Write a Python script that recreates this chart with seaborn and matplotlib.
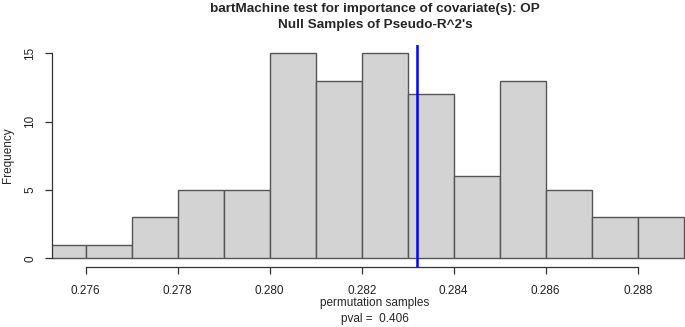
#!/usr/bin/env python3
import matplotlib

matplotlib.use("Agg")

import matplotlib.pyplot as plt
import pandas as pd
import seaborn as sns

# histogram of null permutation samples (bin edges / counts)
BIN_EDGES = [0.275, 0.276, 0.277, 0.278, 0.279, 0.280, 0.281, 0.282,
             0.283, 0.284, 0.285, 0.286, 0.287, 0.288, 0.289]
BIN_COUNTS = [1, 1, 3, 5, 5, 15, 13, 15, 12, 6, 13, 5, 3, 3]
OBSERVED = 0.2832
PVAL = 0.406
X_TICKS = [0.276, 0.278, 0.280, 0.282, 0.284, 0.286, 0.288]
Y_TICKS = [0, 5, 10, 15]

TITLE_1 = "bartMachine test for importance of covariate(s): OP"
TITLE_2 = "Null Samples of Pseudo-R^2's"


def main() -> None:
    sns.set_theme(style="white")
    plt.rcParams.update(
        {
            "font.family": ["Liberation Sans", "DejaVu Sans"],
            "axes.linewidth": 0.9,
            "axes.edgecolor": "#333333",
            "xtick.color": "#333333",
            "ytick.color": "#333333",
            "xtick.labelcolor": "#222222",
            "ytick.labelcolor": "#222222",
        }
    )

    W, H = 685, 327
    fig = plt.figure(figsize=(W / 100, H / 100), dpi=100)
    left, right, top, bottom = 51.7, 698.0, 45.0, 266.7
    ax = fig.add_axes([left / W, 1 - bottom / H, (right - left) / W, (bottom - top) / H])

    centers = [(a + b) / 2 for a, b in zip(BIN_EDGES[:-1], BIN_EDGES[1:])]
    df = pd.DataFrame({"x": centers, "n": BIN_COUNTS})
    sns.histplot(
        data=df,
        x="x",
        weights="n",
        bins=BIN_EDGES,
        stat="count",
        color="#D3D3D3",
        edgecolor="#555555",
        linewidth=1.0,
        alpha=1.0,
        ax=ax,
    )
    ax.axvline(OBSERVED, color="#0000FF", linewidth=1.8)

    scale = 46.0 / 0.001  # pixels per unit
    x0 = 0.276 - (85.7 - left) / scale
    ax.set_xlim(x0, x0 + (right - left) / scale)
    ax.set_ylim(-0.6, 15.6)

    ax.set_xticks(X_TICKS)
    ax.set_xticklabels([f"{t:.3f}" for t in X_TICKS], fontsize=8.5)
    ax.set_yticks(Y_TICKS)
    ax.set_yticklabels([str(t) for t in Y_TICKS], fontsize=8.5, rotation=90, va="center")
    ax.tick_params(axis="both", direction="out", length=5, width=0.9,
                   bottom=True, left=True)
    ax.tick_params(axis="x", pad=8)
    ax.tick_params(axis="y", pad=6)

    for side in ["top", "right"]:
        ax.spines[side].set_visible(False)
    ax.spines["left"].set_bounds(0, 15)
    ax.spines["bottom"].set_bounds(X_TICKS[0], X_TICKS[-1])
    ax.set_xlabel("")
    ax.set_ylabel("")
    ax.grid(False)

    cx = 375 / W
    fig.text(cx, 1 - 9 / H, TITLE_1, ha="center", va="center", fontsize=9.7, weight="bold")
    fig.text(cx, 1 - 25 / H, TITLE_2, ha="center", va="center", fontsize=9.7, weight="bold")
    fig.text(cx, 1 - 303 / H, "permutation samples", ha="center", va="center", fontsize=8.5)
    fig.text(cx, 1 - 319 / H, f"pval =  {PVAL}", ha="center", va="center", fontsize=8.5)
    fig.text(8 / W, 1 - 155 / H, "Frequency", ha="center", va="center", rotation=90, fontsize=8.5)

    fig.savefig("out.png", dpi=100)
    plt.close(fig)


if __name__ == "__main__":
    main()
